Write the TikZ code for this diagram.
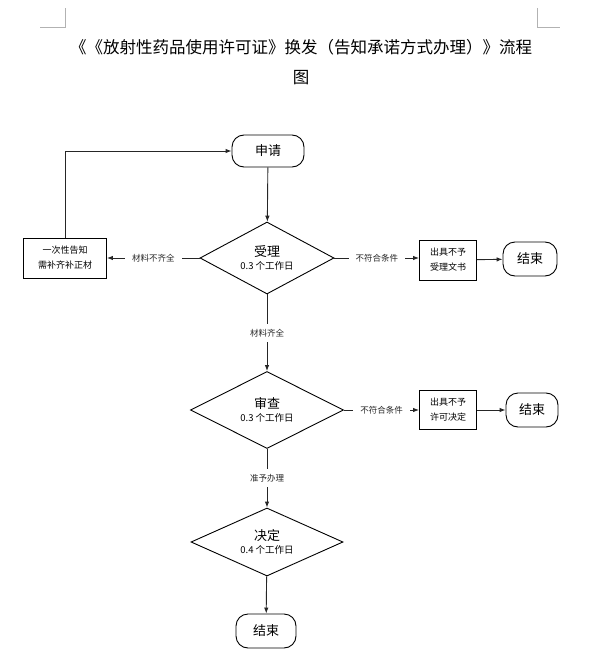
\documentclass[tikz,border=0pt]{standalone}
\usepackage{fontspec}
\setmainfont{Noto Sans CJK SC}
\usetikzlibrary{
	arrows.meta,
	positioning,
	shapes.geometric
}

\begin{document}
\begin{tikzpicture}[>={Latex[length=6pt,width=4.5pt]},x=1pt,y=-1pt,line width=0.9pt,
	term/.style={draw,rectangle,rounded corners=12pt,minimum width=#1,minimum height=33pt,font=\fontsize{13}{15}\selectfont},
	term/.default=56pt,
	stepbox/.style={draw,rectangle,align=center,inner sep=2pt,font=\fontsize{9}{15}\selectfont},
	judge/.style={draw,diamond,align=center,inner sep=0pt,aspect=2,font=\fontsize{13}{15}\selectfont},
	lbl/.style={fill=white,inner xsep=7pt,inner ysep=5pt,font=\fontsize{8.5}{10}\selectfont},
	line/.style={draw,black!85}
	]
	\useasboundingbox (0,0) rectangle (591,671);
	
	% Page corner marks
	\draw[black!30,line width=0.6pt] (40,27) -- (65,27) -- (65,8);
	\draw[black!30,line width=0.6pt] (537,8) -- (537,27) -- (560,27);
	
	% Title
	\node[font=\fontsize{16.5}{20}\selectfont] (title) at (301,47) {《《放射性药品使用许可证》换发（告知承诺方式办理）》流程};
	\node[font=\fontsize{16.5}{20}\selectfont] (title2) at (301,78) {图};
	
	% Main column
	\node[term=72pt,minimum height=32pt] (apply) at (268,151) {申请};
	\node[judge,minimum width=134pt,minimum height=72pt] (accept) at (267,258) {受理\\[-2pt]{\fontsize{9.5}{11}\selectfont 0.3 个工作日}};
	\node[judge,minimum width=153pt,minimum height=77pt] (review) at (267,410) {审查\\[-2pt]{\fontsize{9.5}{11}\selectfont 0.3 个工作日}};
	\node[judge,minimum width=152pt,minimum height=68pt] (decide) at (267,542) {决定\\[-2pt]{\fontsize{9.5}{11}\selectfont 0.4 个工作日}};
	\node[term=60pt,minimum height=34pt] (end3) at (266,631) {结束};
	
	% Left branch
	\node[stepbox,minimum width=83pt,minimum height=40pt] (notify) at (65,258) {一次性告知\\需补齐补正材};
	
	% Right branches
	\node[stepbox,minimum width=57pt,minimum height=40pt] (refuse1) at (448,260) {出具不予\\受理文书};
	\node[term=54pt,minimum height=34pt] (end1) at (530,259) {结束};
	\node[stepbox,minimum width=57pt,minimum height=39pt] (refuse2) at (448,410) {出具不予\\许可决定};
	\node[term=52pt,minimum height=34pt] (end2) at (532,410) {结束};
	
	% Connectors
	\draw[->,line] (apply) -- (accept);
	\draw[->,line] (accept) -- node[lbl] {材料不齐全} (notify);
	\draw[->,line] (notify.north) |- (apply.west);
	\draw[->,line] (accept) -- node[lbl] {不符合条件} (refuse1.west |- accept);
	\draw[->,line] (refuse1) -- (end1);
	\draw[->,line] (accept) -- node[lbl] {材料齐全} (review);
	\draw[->,line] (review) -- node[lbl] {不符合条件} (refuse2);
	\draw[->,line] (refuse2) -- (end2);
	\draw[->,line] (review) -- node[lbl] {准予办理} (decide);
	\draw[->,line] (decide) -- (end3);
	
\end{tikzpicture}
\end{document}
